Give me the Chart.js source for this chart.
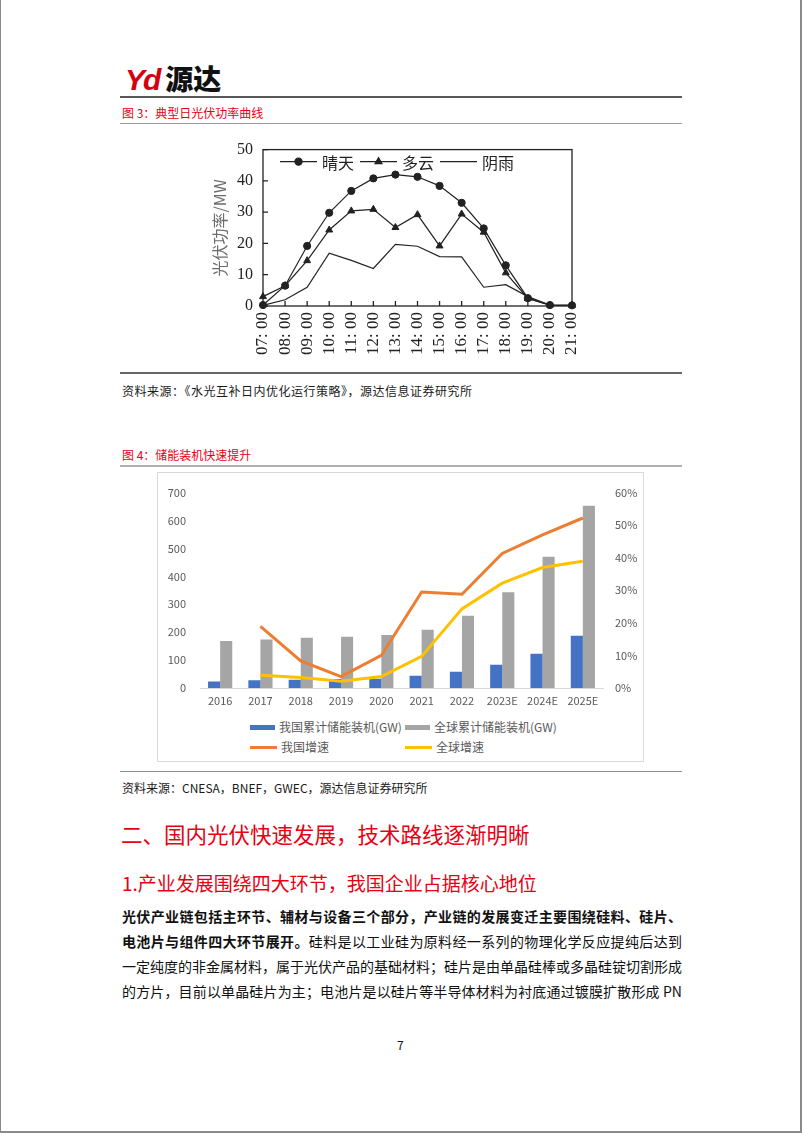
<!DOCTYPE html>
<html><head><meta charset="utf-8">
<script src="https://cdn.jsdelivr.net/npm/chart.js@4.4.0/dist/chart.umd.min.js"></script>
<style>
html,body{margin:0;padding:0;background:#fff;}
body{width:802px;height:1133px;position:relative;overflow:hidden;font-family:"Noto Sans CJK SC","Noto Sans",sans-serif;color:#111;}
.a{position:absolute;white-space:nowrap;}
.hr{position:absolute;left:120px;width:562px;}
.red{color:#e60012;}
.ln{position:absolute;left:122px;width:560px;font-size:14px;line-height:20px;text-align:justify;text-align-last:justify;color:#111;}
.b{font-weight:700;}
#lg2{position:absolute;left:250px;top:717px;font-size:12px;color:#595959;}
.li{position:absolute;white-space:nowrap;line-height:20px;}
.sw{display:inline-block;vertical-align:middle;margin-right:4px;position:relative;top:-1px;}
</style></head>
<body>
<div class="a" style="left:0;top:0;width:802px;height:1133px;box-sizing:border-box;border-left:1px solid #8a8a8a;border-right:2px solid #8a8a8a;border-bottom:2px solid #8a8a8a;"></div>

<div class="a" style="left:125px;top:61px;line-height:34px;height:34px;">
<span style="font-family:'Liberation Sans';font-weight:700;font-style:italic;font-size:30px;color:#d7000f;letter-spacing:-2px;">Yd</span><span style="font-family:'Noto Sans CJK SC';font-weight:900;font-size:28px;color:#111;margin-left:6px;">源达</span>
</div>
<div class="hr" style="top:96px;height:2px;background:#595959;"></div>
<div class="a red" style="left:122px;top:105px;font-size:12px;line-height:16px;">图 3：典型日光伏功率曲线</div>
<div class="hr" style="top:123px;height:1px;background:#9a9a9a;"></div>

<canvas id="c1" class="a" width="400" height="240" style="left:200px;top:130px;width:400px;height:240px;"></canvas>

<div class="hr" style="top:372px;height:2px;background:#666;"></div>
<div class="a" style="left:122px;top:383px;font-size:12px;line-height:16px;color:#1a1a1a;letter-spacing:0.5px;">资料来源：《水光互补日内优化运行策略》，源达信息证券研究所</div>

<div class="a red" style="left:122px;top:447px;font-size:12px;line-height:16px;">图 4：储能装机快速提升</div>
<div class="hr" style="top:465px;height:2px;background:#b0b0b0;"></div>

<div class="a" style="left:157px;top:472px;width:487px;height:290px;box-sizing:border-box;border:1px solid #d9d9d9;"></div>
<canvas id="c2" class="a" width="487" height="240" style="left:157px;top:472px;width:487px;height:240px;"></canvas>
<div id="lg2"></div>

<div class="hr" style="top:771px;height:1px;background:#8c8c8c;"></div>
<div class="a" style="left:122px;top:780px;font-size:12px;line-height:16px;color:#1a1a1a;">资料来源：CNESA，BNEF，GWEC，源达信息证券研究所</div>

<div class="a red" style="left:121px;top:819px;font-size:21.5px;line-height:30px;">二、国内光伏快速发展，技术路线逐渐明晰</div>
<div class="a red" style="left:122px;top:870px;font-size:19px;line-height:26px;">1.产业发展围绕四大环节，我国企业占据核心地位</div>

<div class="ln b" style="top:906px;">光伏产业链包括主环节、辅材与设备三个部分，产业链的发展变迁主要围绕硅料、硅片、</div>
<div class="ln" style="top:931px;"><span class="b">电池片与组件四大环节展开。</span>硅料是以工业硅为原料经一系列的物理化学反应提纯后达到</div>
<div class="ln" style="top:956px;">一定纯度的非金属材料，属于光伏产品的基础材料；硅片是由单晶硅棒或多晶硅锭切割形成</div>
<div class="ln" style="top:981px;">的方片，目前以单晶硅片为主；电池片是以硅片等半导体材料为衬底通过镀膜扩散形成 PN</div>

<div class="a" style="left:397px;top:1037px;font-size:12px;line-height:16px;">7</div>

<script>
// ---------- Chart 1 data ----------
const hours = ['07: 00','08: 00','09: 00','10: 00','11: 00','12: 00','13: 00','14: 00','15: 00','16: 00','17: 00','18: 00','19: 00','20: 00','21: 00'];
const sunny  = [0.3, 6.5, 19.2, 29.8, 36.8, 40.8, 42.0, 41.3, 38.4, 33.0, 24.8, 13.0, 2.5, 0.3, 0.2];
const cloudy = [3.0, 6.5, 14.5, 24.3, 30.4, 30.9, 25.1, 29.2, 19.2, 29.4, 23.6, 10.6, 2.4, 0.3, 0.2];
const rainy  = [0.2, 2.0, 6.0, 16.9, 14.6, 12.0, 19.7, 19.1, 15.8, 15.7, 6.0, 6.8, 3.0, 0.3, 0.2];
const yTicks1 = [0, 10, 20, 30, 40, 50];

// ---------- Chart 2 data ----------
const years = ['2016','2017','2018','2019','2020','2021','2022','2023E','2024E','2025E'];
const chinaCum  = [23, 28, 30, 32, 33, 44, 58, 83, 123, 187];
const globalCum = [168, 174, 180, 184, 190, 209, 259, 343, 470, 653];
const chinaGrowth  = [null, 18.9, 8.3, 3.5, 10.0, 29.5, 28.8, 41.3, 47.0, 52.2];
const globalGrowth = [null, 3.9, 3.2, 2.1, 3.5, 9.7, 24.3, 32.2, 37.0, 38.9];

const serif = '"Liberation Serif","DejaVu Serif",serif';
const cjk = '"Noto Sans CJK SC","Noto Sans",sans-serif';

const boxTicks = {
  id: 'boxTicks',
  afterDraw(chart) {
    const {ctx, chartArea: a, scales: {x, y}} = chart;
    ctx.save();
    ctx.strokeStyle = '#222'; ctx.lineWidth = 1.3;
    ctx.strokeRect(a.left, a.top, a.right - a.left, a.bottom - a.top);
    ctx.beginPath();
    y.ticks.forEach((t, i) => { const py = y.getPixelForTick(i); ctx.moveTo(a.left, py); ctx.lineTo(a.left + 5, py); });
    x.ticks.forEach((t, i) => { const px = x.getPixelForTick(i); ctx.moveTo(px, a.bottom); ctx.lineTo(px, a.bottom - 5); });
    ctx.stroke();
    // legend drawn inside the plot area
    let lx = a.left + 17; const ly = a.top + 12;
    chart.data.datasets.forEach(ds => {
      ctx.strokeStyle = ds.borderColor; ctx.lineWidth = ds.borderWidth; ctx.fillStyle = ds.pointBackgroundColor;
      ctx.beginPath(); ctx.moveTo(lx, ly); ctx.lineTo(lx + 37, ly); ctx.stroke();
      if (ds.pointRadius > 0) {
        Chart.helpers.drawPoint(ctx, {pointStyle: ds.pointStyle, radius: ds.pointRadius, rotation: 0, borderWidth: 1}, lx + 18.5, ly);
      }
      ctx.font = '16px ' + cjk; ctx.fillStyle = '#222'; ctx.textBaseline = 'middle'; ctx.textAlign = 'left';
      ctx.fillText(ds.label, lx + 42, ly + 1);
      lx += 80;
    });
    ctx.restore();
  }
};

function lineDs(label, data, style, r) {
  return {label, data, borderColor: '#222', borderWidth: 1.2, pointStyle: style, pointRadius: r,
    pointBackgroundColor: '#222', pointBorderColor: '#222', pointBorderWidth: 1, tension: 0, clip: false};
}

new Chart(document.getElementById('c1'), {
  type: 'line',
  data: { labels: hours, datasets: [
    lineDs('晴天', sunny, 'circle', 3.6),
    lineDs('多云', cloudy, 'triangle', 4),
    lineDs('阴雨', rainy, false, 0)
  ]},
  options: {
    responsive: false, animation: false, devicePixelRatio: 1,
    layout: {padding: {top: 14, right: 28, left: 10, bottom: 0}},
    plugins: {legend: {display: false}, tooltip: {enabled: false}},
    scales: {
      x: {
        offset: false,
        grid: {display: false, drawTicks: false}, border: {display: false},
        ticks: {autoSkip: false, minRotation: 90, maxRotation: 90, padding: 6, color: '#222', font: {family: serif, size: 17}},
        afterFit(s) { s.height = 64; }
      },
      y: {
        min: 0, max: 50,
        afterBuildTicks(s) { s.ticks = yTicks1.map(v => ({value: v})); },
        grid: {display: false, drawTicks: false}, border: {display: false},
        ticks: {padding: 10, color: '#222', font: {family: serif, size: 16}},
        title: {display: true, text: '光伏功率/MW', color: '#6b6b6b', font: {family: cjk, size: 16}, padding: 0},
        afterFit(s) { s.width = 53; }
      }
    }
  },
  plugins: [boxTicks]
});

const gray = '#595959';
const chart2 = new Chart(document.getElementById('c2'), {
  type: 'bar',
  data: { labels: years, datasets: [
    {type: 'bar', label: '我国累计储能装机(GW)', data: chinaCum, backgroundColor: '#4472C4', yAxisID: 'y', order: 1, categoryPercentage: 0.6, barPercentage: 1.0},
    {type: 'bar', label: '全球累计储能装机(GW)', data: globalCum, backgroundColor: '#A5A5A5', yAxisID: 'y', order: 1, categoryPercentage: 0.6, barPercentage: 1.0},
    {type: 'line', label: '我国增速', data: chinaGrowth, borderColor: '#ED7D31', backgroundColor: '#ED7D31', borderWidth: 3, pointRadius: 0, yAxisID: 'y1', order: 0, tension: 0},
    {type: 'line', label: '全球增速', data: globalGrowth, borderColor: '#FFC000', backgroundColor: '#FFC000', borderWidth: 3, pointRadius: 0, yAxisID: 'y1', order: 0, tension: 0}
  ]},
  options: {
    responsive: false, animation: false, devicePixelRatio: 1,
    layout: {padding: {top: 16, right: 0, left: 0, bottom: 0}},
    plugins: {legend: {display: false}, tooltip: {enabled: false}},
    scales: {
      x: {
        grid: {display: false, drawTicks: false}, border: {display: true, color: '#d9d9d9', width: 1},
        ticks: {padding: 6, color: gray, font: {family: cjk, size: 11}},
        afterFit(s) { s.height = 24; }
      },
      y: {
        position: 'left', min: 0, max: 700, ticks: {stepSize: 100, padding: 14, color: gray, font: {family: cjk, size: 11}},
        grid: {display: false, drawTicks: false}, border: {display: false},
        afterFit(s) { s.width = 43; }
      },
      y1: {
        position: 'right', min: 0, max: 60, ticks: {stepSize: 10, padding: 12, color: gray, font: {family: cjk, size: 11}, callback: v => v + '%'},
        grid: {display: false, drawTicks: false}, border: {display: false},
        afterFit(s) { s.width = 41; }
      }
    }
  }
});

// HTML legend built from the datasets
const lg = document.getElementById('lg2');
chart2.data.datasets.forEach((ds, i) => {
  const d = document.createElement('div');
  d.className = 'li';
  d.style.left = (i % 2 === 0 ? 0 : 155) + 'px';
  d.style.top = (i < 2 ? 0 : 20) + 'px';
  const sw = document.createElement('span');
  sw.className = 'sw';
  if (ds.type === 'bar') { sw.style.width = '25px'; sw.style.height = '5px'; sw.style.background = ds.backgroundColor; }
  else { sw.style.width = '27px'; sw.style.height = '3px'; sw.style.background = ds.borderColor; }
  d.appendChild(sw);
  d.appendChild(document.createTextNode(ds.label));
  lg.appendChild(d);
});
</script>
</body></html>
